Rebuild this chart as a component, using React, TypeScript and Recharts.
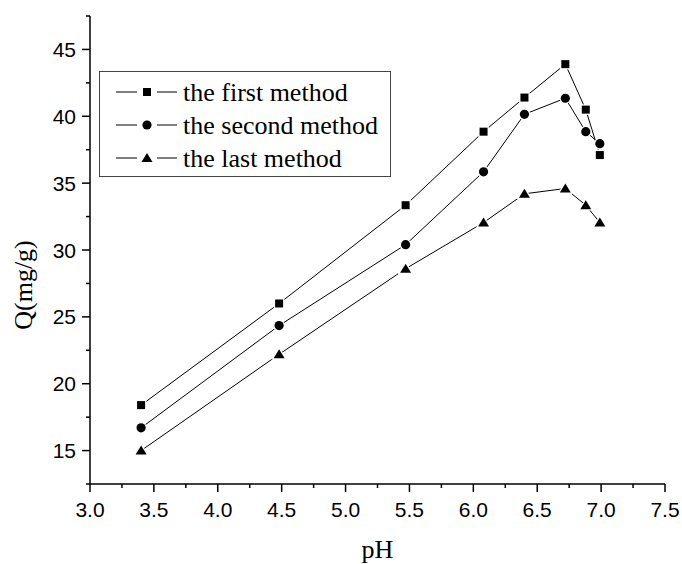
import { Legend, Line, LineChart, XAxis, YAxis } from 'recharts'

const ph = [3.4, 4.48, 5.47, 6.08, 6.4, 6.72, 6.88, 6.99]
const firstMethod = [18.4, 26.0, 33.35, 38.85, 41.4, 43.9, 40.5, 37.1]
const secondMethod = [16.7, 24.35, 30.4, 35.85, 40.15, 41.35, 38.85, 37.95]
const lastMethod = [15.0, 22.2, 28.6, 32.05, 34.2, 34.6, 33.35, 32.05]

const xTicks = [3.0, 3.25, 3.5, 3.75, 4.0, 4.25, 4.5, 4.75, 5.0, 5.25, 5.5, 5.75, 6.0, 6.25, 6.5, 6.75, 7.0, 7.25, 7.5]
const yTicks = [12.5, 15, 17.5, 20, 22.5, 25, 27.5, 30, 32.5, 35, 37.5, 40, 42.5, 45, 47.5]

const seriesNames = ['the first method', 'the second method', 'the last method']

const data = ph.map((x, i) => ({
  ph: x,
  first: firstMethod[i],
  second: secondMethod[i],
  last: lastMethod[i],
}))

const serif = '"Liberation Serif", "Times New Roman", serif'
const sans = '"Liberation Sans", Arial, sans-serif'

type MarkProps = { cx?: number; cy?: number; kind: 'square' | 'circle' | 'triangle'; gap?: boolean }

// markers get a white outline so the connecting lines stop short of them
function Mark({ cx = 0, cy = 0, kind, gap = true }: MarkProps) {
  const stroke = gap ? '#fff' : 'none'
  const sw = gap ? 2.5 : 0
  if (kind === 'square') {
    return <rect x={cx - 4} y={cy - 4} width={8} height={8} fill="#000" stroke={stroke} strokeWidth={sw} paintOrder="stroke" />
  }
  if (kind === 'circle') {
    return <circle cx={cx} cy={cy} r={4.6} fill="#000" stroke={stroke} strokeWidth={sw} paintOrder="stroke" />
  }
  return (
    <path
      d={`M${cx},${cy - 5} L${cx + 5.5},${cy + 4} L${cx - 5.5},${cy + 4} Z`}
      fill="#000"
      stroke={stroke}
      strokeWidth={sw}
      paintOrder="stroke"
    />
  )
}

function XTick(props: any) {
  const { x, y, payload } = props
  const v = payload.value as number
  const major = Math.abs(v * 2 - Math.round(v * 2)) < 1e-6
  return (
    <g>
      <line x1={x} x2={x} y1={y} y2={y + (major ? 8 : 4)} stroke="#000" strokeWidth={1.5} />
      {major && (
        <text x={x} y={y + 25} textAnchor="middle" dominantBaseline="central" fontFamily={sans} fontSize={21} fill="#000">
          {v.toFixed(1)}
        </text>
      )}
    </g>
  )
}

function YTick(props: any) {
  const { x, y, payload } = props
  const v = payload.value as number
  const major = Math.abs(v / 5 - Math.round(v / 5)) < 1e-6
  return (
    <g>
      <line x1={x - (major ? 8 : 4)} x2={x} y1={y} y2={y} stroke="#000" strokeWidth={1.5} />
      {major && (
        <text x={x - 14} y={y} textAnchor="end" dominantBaseline="central" fontFamily={sans} fontSize={21} fill="#000">
          {v}
        </text>
      )}
    </g>
  )
}

function LegendBox() {
  const kinds: MarkProps['kind'][] = ['square', 'circle', 'triangle']
  return (
    <svg width={292} height={106} style={{ display: 'block' }}>
      <rect x={0.5} y={0.5} width={291} height={105} fill="#fff" stroke="#444" strokeWidth={1} />
      {kinds.map((k, i) => {
        const cy = 21 + i * 33
        return (
          <g key={k}>
            <line x1={17} x2={38} y1={cy} y2={cy} stroke="#000" strokeWidth={1} />
            <Mark cx={48} cy={cy} kind={k} gap={false} />
            <line x1={58} x2={78} y1={cy} y2={cy} stroke="#000" strokeWidth={1} />
            <text x={84} y={cy} dominantBaseline="central" fontFamily={serif} fontSize={26} fill="#000">
              {seriesNames[i]}
            </text>
          </g>
        )
      })}
    </svg>
  )
}

export default function App() {
  return (
    <div style={{ position: 'absolute', left: 0, top: 0, width: 682, height: 564, background: '#fff' }}>
      <LineChart width={682} height={564} data={data} margin={{ top: 16, right: 17, bottom: 40, left: 30 }}>
        <XAxis
          dataKey="ph"
          type="number"
          domain={[3, 7.5]}
          ticks={xTicks}
          interval={0}
          tick={<XTick />}
          tickLine={false}
          tickSize={0}
          tickMargin={0}
          height={40}
          axisLine={{ stroke: '#000', strokeWidth: 1.5 }}
          label={(p: any) => {
            const vb = p.viewBox
            return (
              <text x={vb.x + vb.width / 2} y={549} textAnchor="middle" dominantBaseline="central" fontFamily={serif} fontSize={26} fill="#000">
                pH
              </text>
            )
          }}
        />
        <YAxis
          type="number"
          domain={[12.5, 47.5]}
          ticks={yTicks}
          interval={0}
          tick={<YTick />}
          tickLine={false}
          tickSize={0}
          tickMargin={0}
          width={60}
          axisLine={{ stroke: '#000', strokeWidth: 1.5 }}
          label={() => (
            <text
              x={23}
              y={285}
              transform="rotate(-90 23 285)"
              textAnchor="middle"
              dominantBaseline="central"
              fontFamily={serif}
              fontSize={26}
              fill="#000"
            >
              Q(mg/g)
            </text>
          )}
        />
        <Legend
          layout="vertical"
          align="center"
          verticalAlign="middle"
          wrapperStyle={{ left: 99, top: 71, width: 292 }}
          content={() => <LegendBox />}
        />
        <Line
          dataKey="first"
          name={seriesNames[0]}
          stroke="#000"
          strokeWidth={1}
          isAnimationActive={false}
          dot={(p: any) => <Mark key={`f${p.index}`} cx={p.cx} cy={p.cy} kind="square" />}
          activeDot={false}
        />
        <Line
          dataKey="second"
          name={seriesNames[1]}
          stroke="#000"
          strokeWidth={1}
          isAnimationActive={false}
          dot={(p: any) => <Mark key={`s${p.index}`} cx={p.cx} cy={p.cy} kind="circle" />}
          activeDot={false}
        />
        <Line
          dataKey="last"
          name={seriesNames[2]}
          stroke="#000"
          strokeWidth={1}
          isAnimationActive={false}
          dot={(p: any) => <Mark key={`l${p.index}`} cx={p.cx} cy={p.cy} kind="triangle" />}
          activeDot={false}
        />
      </LineChart>
    </div>
  )
}
